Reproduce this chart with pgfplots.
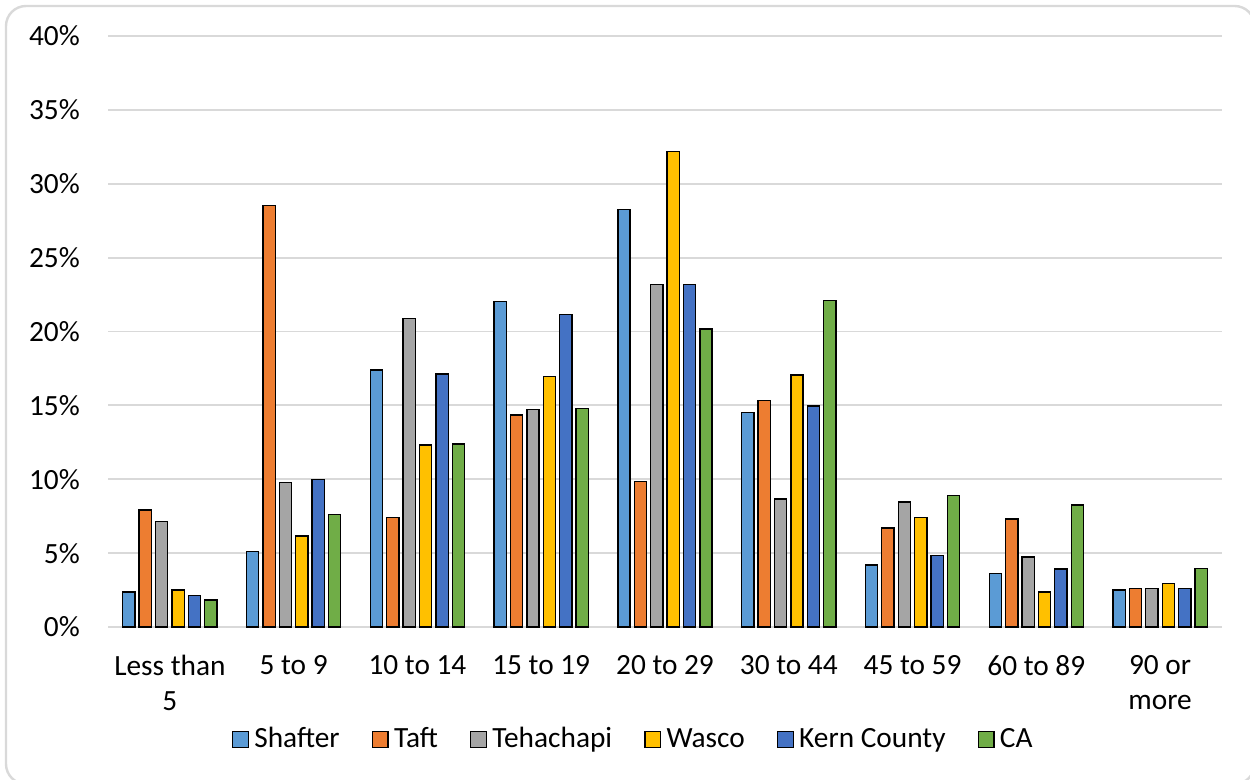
\documentclass[border=0pt]{standalone}
\usepackage{pgfplots}
\pgfplotsset{compat=1.18}
\usepackage{fontspec}
\setmainfont{Carlito}
\definecolor{cShafter}{HTML}{5B9BD5}
\definecolor{cTaft}{HTML}{ED7D31}
\definecolor{cTeh}{HTML}{A5A5A5}
\definecolor{cWasco}{HTML}{FFC000}
\definecolor{cKern}{HTML}{4472C4}
\definecolor{cCA}{HTML}{70AD47}
\definecolor{gridc}{HTML}{D9D9D9}
\pgfplotsset{
  sqlegend/.style={legend image code/.code={\draw[##1, draw=black, line width=1pt] (0pt,-5.6pt) rectangle (11.8pt,6.2pt);}},
}
\begin{document}
\fontsize{22}{26.5}\selectfont
\begin{tikzpicture}
\useasboundingbox (0,0) rectangle (937.5pt,-584.25pt);
\draw[draw=gridc, line width=1.8pt, rounded corners=15pt] (4.5pt,-4.5pt) rectangle (941pt,-588pt);
\begin{axis}[
  at={(81pt,-470.25pt)}, anchor=south west,
  width=835.5pt, height=443.25pt, scale only axis,
  ymin=0, ymax=40, xmin=-0.5, xmax=8.5,
  ytick={0,5,...,40},
  yticklabels={0\%,5\%,10\%,15\%,20\%,25\%,30\%,35\%,40\%},
  xtick={0,...,8},
  xticklabels={{Less than\\5},{5 to 9},{10 to 14},{15 to 19},{20 to 29},{30 to 44},{45 to 59},{60 to 89},{90 or\\more}},
  xticklabel style={align=center, anchor=north, inner sep=0pt, yshift=-21pt, font=\fontsize{22}{26.5}\selectfont},
  yticklabel style={anchor=east, inner sep=0pt, xshift=-21pt, font=\fontsize{22}{26.5}\selectfont},
  ymajorgrids, grid style={draw=gridc, line width=1.4pt},
  axis x line*=bottom, axis y line*=left,
  x axis line style={draw=gridc, line width=1.4pt, -},
  y axis line style={draw=none},
  major tick length=0pt, tick style={draw=none},
  ybar=3.1pt, bar width=9.2pt,
  every axis plot post/.append style={sqlegend},
  legend style={draw=none, fill=none, at={(0.473,-0.191)}, anchor=center,
    font=\fontsize{22}{26.5}\selectfont,
    legend columns=-1,
    nodes={inner xsep=4pt},
    /tikz/every even column/.append style={column sep=20pt}},
]
\addplot[fill=cShafter, draw=black, line width=1pt] coordinates {(0,2.37) (1,5.13) (2,17.4) (3,22.04) (4,28.26) (5,14.53) (6,4.2) (7,3.6) (8,2.5)};
\addplot[fill=cTaft, draw=black, line width=1pt] coordinates {(0,7.93) (1,28.55) (2,7.42) (3,14.34) (4,9.83) (5,15.31) (6,6.7) (7,7.3) (8,2.62)};
\addplot[fill=cTeh, draw=black, line width=1pt] coordinates {(0,7.12) (1,9.78) (2,20.88) (3,14.73) (4,23.2) (5,8.67) (6,8.45) (7,4.73) (8,2.6)};
\addplot[fill=cWasco, draw=black, line width=1pt] coordinates {(0,2.5) (1,6.17) (2,12.33) (3,16.96) (4,32.2) (5,17.05) (6,7.4) (7,2.37) (8,2.95)};
\addplot[fill=cKern, draw=black, line width=1pt] coordinates {(0,2.15) (1,10.0) (2,17.12) (3,21.16) (4,23.2) (5,14.95) (6,4.85) (7,3.92) (8,2.62)};
\addplot[fill=cCA, draw=black, line width=1pt] coordinates {(0,1.82) (1,7.63) (2,12.38) (3,14.77) (4,20.16) (5,22.11) (6,8.92) (7,8.25) (8,3.95)};
\legend{Shafter,Taft,Tehachapi,Wasco,Kern County,CA}
\end{axis}
\end{tikzpicture}
\end{document}
